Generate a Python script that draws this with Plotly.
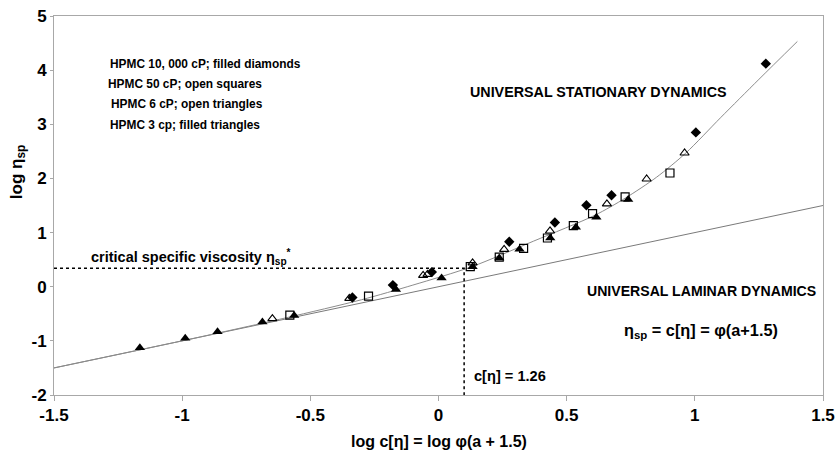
import plotly.graph_objects as go

# ---- data ----
tri_filled_x = [-1.165, -0.988, -0.862, -0.687, -0.563, -0.166, 0.012, 0.133, 0.237, 0.316, 0.436, 0.536, 0.616, 0.740]
tri_filled_y = [-1.125, -0.954, -0.830, -0.653, -0.530, -0.050, 0.159, 0.370, 0.530, 0.690, 0.900, 1.100, 1.285, 1.610]

tri_open_x = [-0.648, -0.348, -0.060, -0.043, 0.133, 0.256, 0.435, 0.657, 0.812, 0.960]
tri_open_y = [-0.590, -0.216, 0.210, 0.227, 0.440, 0.690, 1.030, 1.530, 1.990, 2.470]

sq_open_x = [-0.580, -0.273, 0.124, 0.237, 0.332, 0.425, 0.526, 0.601, 0.728, 0.903]
sq_open_y = [-0.524, -0.173, 0.370, 0.546, 0.707, 0.900, 1.130, 1.350, 1.660, 2.100]

dia_x = [-0.336, -0.178, -0.026, 0.276, 0.454, 0.577, 0.675, 1.004, 1.277]
dia_y = [-0.200, 0.030, 0.270, 0.830, 1.185, 1.505, 1.690, 2.850, 4.120]

# universal stationary dynamics curve
curve_x = [-1.5, -1.0, -0.6, -0.3, -0.1, 0.13, 0.37, 0.61, 0.73, 0.85, 0.965, 1.1, 1.25, 1.40]
curve_y = [-1.5, -1.0, -0.58, -0.24, 0.03, 0.37, 0.84, 1.32, 1.64, 2.02, 2.47, 3.12, 3.83, 4.53]

# universal laminar dynamics line: log eta_sp = log c[eta]
laminar_x = [-1.5, 1.5]
laminar_y = [-1.5, 1.5]

# critical point
crit_x = 0.10
crit_y = 0.34

x_ticks = [-1.5, -1, -0.5, 0, 0.5, 1, 1.5]
x_tick_text = ["-1.5", "-1", "-0.5", "0", "0.5", "1", "1.5"]
y_ticks = [-2, -1, 0, 1, 2, 3, 4, 5]
y_tick_text = ["-2", "-1", "0", "1", "2", "3", "4", "5"]

FONT = "Liberation Sans, Arial, sans-serif"

fig = go.Figure()

fig.add_trace(go.Scatter(x=laminar_x, y=laminar_y, mode="lines",
                         line=dict(color="#7a7a7a", width=1), hoverinfo="skip"))
fig.add_trace(go.Scatter(x=curve_x, y=curve_y, mode="lines",
                         line=dict(color="#8c8c8c", width=1, shape="spline", smoothing=0.8),
                         hoverinfo="skip"))
# dotted guide lines
fig.add_trace(go.Scatter(x=[-1.5, crit_x, crit_x], y=[crit_y, crit_y, -2], mode="lines",
                         line=dict(color="black", width=1.5, dash="dot"), hoverinfo="skip"))

fig.add_trace(go.Scatter(x=sq_open_x, y=sq_open_y, mode="markers",
                         marker=dict(symbol="square-open", size=8, color="black", line=dict(width=1.2))))
fig.add_trace(go.Scatter(x=tri_open_x, y=tri_open_y, mode="markers",
                         marker=dict(symbol="triangle-up-open", size=8, color="black", line=dict(width=1.1))))
fig.add_trace(go.Scatter(x=tri_filled_x, y=tri_filled_y, mode="markers",
                         marker=dict(symbol="triangle-up", size=9, color="black")))
fig.add_trace(go.Scatter(x=dia_x, y=dia_y, mode="markers",
                         marker=dict(symbol="diamond", size=8, color="black")))


def P(px, py):
    return (px - 54) / 769, (395 - py) / 379.3


ann = []
legend_lines = ["HPMC 10, 000 cP; filled diamonds", "HPMC 50 cP; open squares",
                "HPMC 6 cP; open triangles", "HPMC 3 cp; filled triangles"]
legend_pos = [(108, 64), (106, 84), (109, 104), (108, 125)]
for t, (px, py) in zip(legend_lines, legend_pos):
    x0, y0 = P(px, py)
    ann.append(dict(text="<b>%s</b>" % t, xref="paper", yref="paper",
                    x=x0, y=y0, xanchor="left", yanchor="middle",
                    showarrow=False, font=dict(size=11.9, color="black", family=FONT)))

x0, y0 = P(468, 92)
ann.append(dict(text="<b>UNIVERSAL STATIONARY DYNAMICS</b>", xref="paper", yref="paper", x=x0, y=y0,
                xanchor="left", yanchor="middle", showarrow=False,
                font=dict(size=14.3, color="black", family=FONT)))
x0, y0 = P(585, 291)
ann.append(dict(text="<b>UNIVERSAL LAMINAR DYNAMICS</b>", xref="paper", yref="paper", x=x0, y=y0,
                xanchor="left", yanchor="middle", showarrow=False,
                font=dict(size=14.1, color="black", family=FONT)))
x0, y0 = P(622, 331)
ann.append(dict(text="<b>η<sub>sp</sub> = c[η] = φ(a+1.5)</b>", xref="paper", yref="paper", x=x0, y=y0,
                xanchor="left", yanchor="middle", showarrow=False,
                font=dict(size=16.3, color="black", family=FONT)))
x0, y0 = P(472, 376)
ann.append(dict(text="<b>c[η] = 1.26</b>", xref="paper", yref="paper", x=x0, y=y0,
                xanchor="left", yanchor="middle", showarrow=False,
                font=dict(size=14.6, color="black", family=FONT)))
x0, y0 = P(89, 257)
ann.append(dict(text="<b>critical specific viscosity η<sub>sp</sub><sup>*</sup></b>", xref="paper", yref="paper",
                x=x0, y=y0, xanchor="left", yanchor="middle", showarrow=False,
                font=dict(size=14.5, color="black", family=FONT)))
# y axis title
x0, y0 = P(18, 172)
ann.append(dict(text="<b>log η<sub>sp</sub></b>", xref="paper", yref="paper",
                x=x0, y=y0, xanchor="center", yanchor="middle", showarrow=False, textangle=-90,
                font=dict(size=17, color="black", family=FONT)))
# x axis title
x0, y0 = P(438.5, 442)
ann.append(dict(text="<b>log c[η] = log φ(a + 1.5)</b>", xref="paper", yref="paper",
                x=x0, y=y0, xanchor="center", yanchor="middle", showarrow=False,
                font=dict(size=16, color="black", family=FONT)))

fig.update_layout(
    width=836, height=459,
    margin=dict(l=54, r=13, t=16, b=64),
    paper_bgcolor="white", plot_bgcolor="white",
    showlegend=False,
    font=dict(family=FONT, color="black"),
    annotations=ann,
    xaxis=dict(range=[-1.5, 1.5], tickvals=x_ticks, ticktext=["<b>%s</b>" % t for t in x_tick_text],
               showgrid=False, zeroline=False, showline=True, mirror=True, linecolor="#a8a8a8", linewidth=1,
               ticks="outside", ticklen=5, tickcolor="#a8a8a8", automargin=False,
               tickfont=dict(size=17, color="black", family=FONT)),
    yaxis=dict(range=[-2, 5], tickvals=y_ticks, ticktext=["<b>%s</b>" % t for t in y_tick_text],
               showgrid=False, zeroline=False, showline=True, mirror=True, linecolor="#a8a8a8", linewidth=1,
               ticks="outside", ticklen=3, tickcolor="#a8a8a8", automargin=False,
               tickfont=dict(size=17, color="black", family=FONT)),
)

fig.write_html("out.html")
